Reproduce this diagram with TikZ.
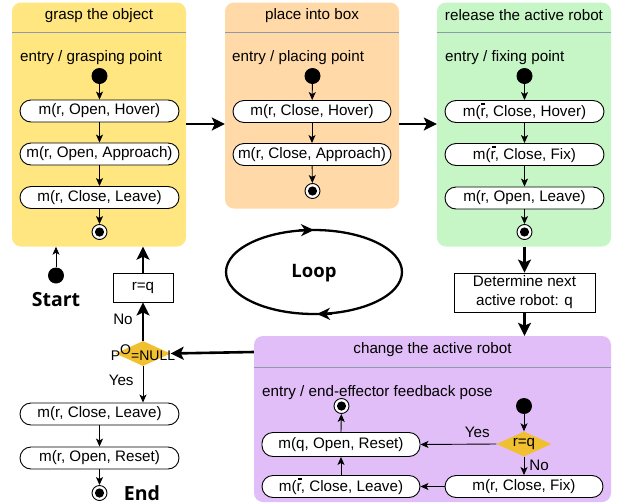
\documentclass[tikz,border=0pt]{standalone}
\usepackage{fontspec}
\setmainfont{Liberation Sans}
\newfontfamily\osans{Open Sans}
\usetikzlibrary{arrows.meta,shapes.geometric}
\definecolor{cyel}{HTML}{FFE680}
\definecolor{corg}{HTML}{FFDAA8}
\definecolor{cgrn}{HTML}{C6F5C6}
\definecolor{cpur}{HTML}{E1BEF8}
\definecolor{cgold}{HTML}{F0C030}
\definecolor{csep}{HTML}{8C9AAA}
\newcommand\rbar{\leavevmode\rlap{\hspace{0.06em}\rule[0.78em]{0.26em}{0.07em}}r}
\begin{document}
\begin{tikzpicture}[x=1pt,y=-1pt,
  font=\fontsize{15.2}{17}\selectfont,
  container/.style={rounded corners=9pt, inner sep=0pt},
  mstate/.style={draw=black, line width=0.9pt, fill=white, rounded corners=11pt, minimum width=159pt, minimum height=22pt, inner sep=0pt},
  plainbox/.style={draw=black, line width=0.9pt, fill=white, inner sep=0pt, align=center},
  initdot/.style={circle, fill=black, minimum size=16pt, inner sep=0pt},
  finaldot/.style={circle, draw=black, line width=0.9pt, fill=white, minimum size=15pt, inner sep=0pt,
     path picture={\fill[black] (path picture bounding box.center) circle (4.6pt);}},
  decision/.style={diamond, fill=cgold, minimum width=55pt, minimum height=25pt, inner sep=0pt, aspect=2.2},
  thin/.style={line width=0.9pt, -{Stealth[length=8pt,width=7pt,inset=2pt]}},
  thick/.style={line width=2.6pt, -{Stealth[length=13pt,width=13pt,inset=3pt]}},
  lbl/.style={inner sep=0pt},
  titletext/.style={inner sep=0pt},
  bigbold/.style={inner sep=0pt, font=\osans\bfseries\fontsize{19.5}{21}\selectfont}
]
\useasboundingbox (0,0) rectangle (625,504);

% ---------- containers ----------
\node[container, fill=cyel, minimum width=174pt, minimum height=244pt] (yb) at (99,124.5) {};
\node[container, fill=corg, minimum width=174pt, minimum height=206pt] (ob) at (312,105.5) {};
\node[container, fill=cgrn, minimum width=174pt, minimum height=244pt] (gb) at (524,124.5) {};
\node[container, fill=cpur, minimum width=357pt, minimum height=166pt] (pb) at (432.5,419) {};

\draw[csep, line width=0.8pt] (12,32.5) -- (186,32.5);
\draw[csep, line width=0.8pt] (225,32.5) -- (399,32.5);
\draw[csep, line width=0.8pt] (437,32.5) -- (611,32.5);
\draw[csep, line width=0.8pt] (254,367) -- (611,367);

\node[titletext] (yt) at (99,15.5) {grasp the object};
\node[titletext] (ot) at (312,15.5) {place into box};
\node[titletext] (gt) at (524,15.5) {release the active robot};
\node[titletext] (pt) at (432.5,350) {change the active robot};

% ---------- grasp the object ----------
\node[lbl, anchor=west] (ye) at (20,58) {entry / grasping point};
\node[initdot] (yi) at (99.5,76) {};
\node[mstate] (y1) at (99.5,111) {m(r, Open, Hover)};
\node[mstate] (y2) at (99.5,154) {m(r, Open, Approach)};
\node[mstate] (y3) at (99.5,197.5) {m(r, Close, Leave)};
\node[finaldot] (yf) at (99.5,232) {};
\draw[thin] (yi) -- (y1);
\draw[thin] (y1) -- (y2);
\draw[thin] (y2) -- (y3);
\draw[thin] (y3) -- (yf);

% ---------- place into box ----------
\node[lbl, anchor=west] (oe) at (232,58) {entry / placing point};
\node[initdot] (oi) at (312.5,76) {};
\node[mstate, minimum width=158pt] (o1) at (312,111.5) {m(r, Close, Hover)};
\node[mstate, minimum width=158pt] (o2) at (312,154.5) {m(r, Close, Approach)};
\node[finaldot] (of) at (312.5,191) {};
\draw[thin] (oi) -- (o1);
\draw[thin] (o1) -- (o2);
\draw[thin] (o2) -- (of);

% ---------- release the active robot ----------
\node[lbl, anchor=west] (ge) at (445,58) {entry / fixing point};
\node[initdot] (gi) at (524.5,76) {};
\node[mstate] (g1) at (524.5,111.5) {m(\rbar, Close, Hover)};
\node[mstate] (g2) at (524.5,154.5) {m(\rbar, Close, Fix)};
\node[mstate] (g3) at (524.5,198) {m(r, Open, Leave)};
\node[finaldot] (gf) at (524.5,232) {};
\draw[thin] (gi) -- (g1);
\draw[thin] (g1) -- (g2);
\draw[thin] (g2) -- (g3);
\draw[thin] (g3) -- (gf);

% ---------- arrows between states ----------
\draw[thick] (yb.east |- 0,124) -- (ob.west |- 0,124);
\draw[thick] (ob.east |- 0,124) -- (gb.west |- 0,124);

% ---------- loop ----------
\draw[line width=2.3pt] (314,272) ellipse (88pt and 42pt);
\coordinate (lt1) at (299,230.2);
\coordinate (lt2) at (314,230);
\coordinate (lb1) at (332,313.8);
\coordinate (lb2) at (317,314);
\draw[line width=2.3pt, -{Stealth[length=13pt,width=12pt,inset=4pt]}] (lt1) -- (lt2);
\draw[line width=2.3pt, -{Stealth[length=13pt,width=12pt,inset=4pt]}] (lb1) -- (lb2);
\node[bigbold, font=\osans\bfseries\fontsize{18.5}{20}\selectfont] (loop) at (314,273) {Loop};

% ---------- determine ----------
\node[plainbox, minimum width=141pt, minimum height=39pt, font=\fontsize{15.2}{19}\selectfont] (det) at (524.5,292.5) {Determine next\\active robot: q};
\draw[thick] (gb.south -| det) -- (det.north);
\draw[thick] (det.south) -- (pb.north -| det);

% ---------- change the active robot ----------
\node[lbl, anchor=west] (pe) at (262,393) {entry / end-effector feedback pose};
\node[finaldot] (pf) at (341.5,406) {};
\node[initdot] (pi) at (524,406) {};
\node[decision] (rq) at (524,444) {r=q};
\node[mstate, minimum width=158pt, minimum height=24pt] (p1) at (341,444.5) {m(q, Open, Reset)};
\node[mstate, minimum width=158pt] (p2) at (341,486.5) {m(\rbar, Close, Leave)};
\node[mstate, minimum width=158pt] (p3) at (524,486.5) {m(r, Close, Fix)};
\draw[thin] (pi) -- (rq);
\draw[thin] (rq.west) -- node[lbl, pos=0.25, above=6pt] (yes2) {Yes} (p1.east);
\draw[thin] (rq.south) -- node[lbl, right=5pt, pos=0.45] (no2) {No} (p3.north);
\draw[thin] (p3.west) -- (p2.east);
\draw[thin] (p2.north) -- (p1.south);
\draw[thin] (p1.north) -- (pf);

% ---------- left column ----------
\node[decision] (pnull) at (143,353.5) {};
\node[lbl, font=\fontsize{14}{16}\selectfont] (pnt) at (143,353) {P\raisebox{0.42em}{O}=NULL};
\draw[thick] (pb.west |- 0,352) -- (pnull.east);
\node[plainbox, minimum width=60pt, minimum height=29pt] (rbox) at (143,287.5) {r=q};
\draw[thick] (pnull.north) -- node[lbl, left=9pt, pos=0.55] (no1) {No} (rbox.south);
\draw[thick] (rbox.north) -- (yb.south -| rbox);

\node[initdot] (si) at (56,275.5) {};
\draw[thin] (si) -- (yb.south -| si);
\node[bigbold] (start) at (56,300) {Start};

\node[mstate] (l1) at (99.5,414) {m(r, Close, Leave)};
\node[mstate] (l2) at (99.5,458) {m(r, Open, Reset)};
\node[finaldot] (lf) at (99.5,493) {};
\node[bigbold] (endl) at (142,493) {End};
\draw[thin] (pnull.south) -- node[lbl, left=9pt, pos=0.4] (yes1) {Yes} (pnull.south |- l1.north);
\draw[thin] (l1) -- (l2);
\draw[thin] (l2) -- (lf);
\end{tikzpicture}
\end{document}
